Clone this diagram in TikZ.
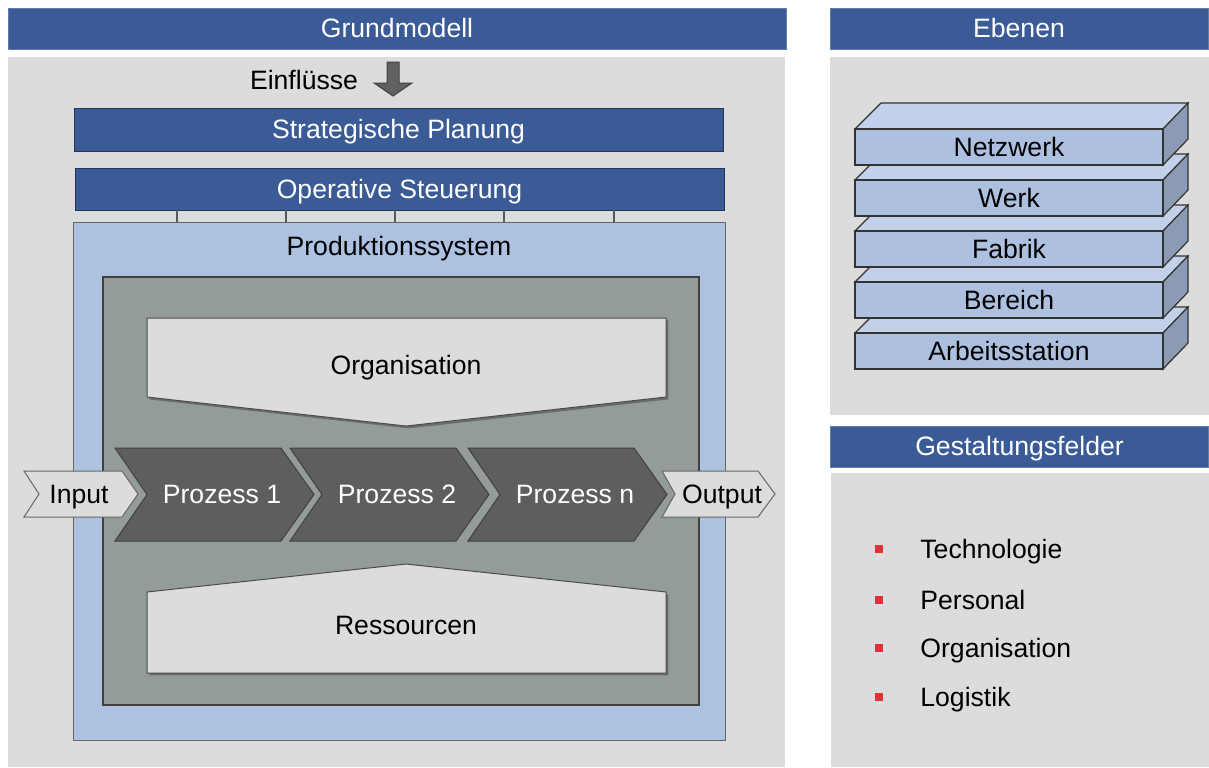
\documentclass[tikz,border=0pt]{standalone}
\usepackage{fontspec}
\setmainfont{Liberation Sans}
\usetikzlibrary{positioning,shadows}
\definecolor{headblue}{HTML}{3B5B97}
\definecolor{panelgray}{HTML}{DCDCDC}
\definecolor{psblue}{HTML}{ADC1E1}
\definecolor{coregray}{HTML}{949C9A}
\definecolor{procgray}{HTML}{5E5E5E}
\definecolor{slabfront}{HTML}{AEC0E0}
\definecolor{slabtop}{HTML}{C2D0E9}
\definecolor{slabside}{HTML}{8C9BB4}
\definecolor{bulletred}{HTML}{E0303A}
\tikzset{head/.style = {fill=headblue, draw=headblue!80!white, text=white, inner sep=0pt},
         bar/.style = {fill=headblue, draw=headblue!60!black, text=white, inner sep=0pt},
         panel/.style = {fill=panelgray},
         link/.style = {draw=black!65, line width=0.6pt},
         plate/.style = {fill=panelgray, draw=black!70, line width=0.5pt,
                         drop shadow={shadow xshift=1.2pt, shadow yshift=-1.2pt, fill=black!70, opacity=.6}},
         proc/.style = {fill=procgray, draw=black!75, line width=0.5pt},
         io/.style = {fill=panelgray, draw=black!60, line width=0.5pt},
         slab/.style = {draw=black!80, line width=0.6pt}}

\begin{document}
\begin{tikzpicture}[x=0.5pt, y=-0.5pt, font=\fontsize{13.3}{16}\selectfont,
                    every node/.style={text height=9.6pt, text depth=0.6pt}]
  \useasboundingbox [fill=white] (0,0) rectangle (1209,767);

  % panels
  \fill [panel] (8,57) rectangle (785,767);
  \fill [panel] (830,57) rectangle (1209,415);
  \fill [panel] (831,473) rectangle (1209,767);

  \node [head, minimum width=389pt, minimum height=20.5pt] (GM) at (397,28.5) {Grundmodell};
  \node [head, minimum width=189pt, minimum height=20.5pt] (EB) at (1019,28.5) {Ebenen};
  \node [head, minimum width=189pt, minimum height=20.5pt] (GF) at (1019.5,446.5) {Gestaltungsfelder};

  % Grundmodell
  \node (EF) at (304,80) {Einflüsse};
  \filldraw [fill=black!62, draw=black!75, line width=0.5pt]
    (387,62) -- (399,62) -- (399,83) -- (412,83) -- (393,96) -- (374,83) -- (387,83) -- cycle;

  \node [bar, minimum width=324.5pt, minimum height=21.5pt] (SP) at (398.5,129.5) {Strategische Planung};
  \node [bar, minimum width=324.5pt, minimum height=21pt] (OS) at (399.5,189) {Operative Steuerung};

  \node [fill=psblue, draw=black!60, line width=0.5pt, minimum width=326pt, minimum height=259pt] (PS) at (399,481) {};
  \foreach \x in {177,286,395,504,614}
    \draw [link] (\x,0 |- OS.south) -- (\x,0 |- PS.north);
  \node (PSL) at (399,246) {Produktionssystem};

  \node [fill=coregray, draw=black!75, line width=0.6pt, minimum width=298pt, minimum height=214pt] (CO) at (401,491) {};

  \filldraw [plate] (147,318) -- (666,318) -- (666,397) -- (406,426) -- (147,397) -- cycle;
  \node (ORG) at (406,365) {Organisation};
  \filldraw [plate] (147,673) -- (666,673) -- (666,592) -- (406,564) -- (147,592) -- cycle;
  \node (RES) at (406,625) {Ressourcen};

  \foreach \x/\t [count=\i] in {115/Prozess 1, 290/Prozess 2, 468/Prozess n} {
    \filldraw [proc] (\x,448) -- ++(166,0) -- ++(33,46.5) -- ++(-33,46.5) -- ++(-166,0) -- ++(32,-46.5) -- cycle;
    \node [text=white] (P\i) at (\x+107,494) {\t};
  }

  \filldraw [io] (24,471) -- (122,471) -- (138,494) -- (122,517) -- (24,517) -- (39,494) -- cycle;
  \node (IN) at (79,494) {Input};
  \filldraw [io] (662,471) -- (758,471) -- (775,494) -- (758,517) -- (662,517) -- (675,494) -- cycle;
  \node (OUT) at (722,494) {Output};

  % Ebenen
  \foreach \y/\t in {333/Arbeitsstation, 282/Bereich, 231/Fabrik, 180/Werk, 129/Netzwerk} {
    \filldraw [slab, fill=slabtop] (855,\y) -- (881,\y-26) -- (1188,\y-26) -- (1163,\y) -- cycle;
    \filldraw [slab, fill=slabside] (1163,\y) -- (1188,\y-26) -- (1188,\y+10) -- (1163,\y+36) -- cycle;
    \filldraw [slab, fill=slabfront] (855,\y) rectangle (1163,\y+36);
    \node (L\y) at (1009,\y+18) {\t};
  }

  % Gestaltungsfelder
  \foreach \y/\t in {549/Technologie, 600/Personal, 648/Organisation, 697/Logistik} {
    \fill [bulletred] (875,\y-4) rectangle (883,\y+4);
    \node [anchor=west, inner sep=0pt] (G\y) at (920,\y) {\t};
  }
\end{tikzpicture}
\end{document}
